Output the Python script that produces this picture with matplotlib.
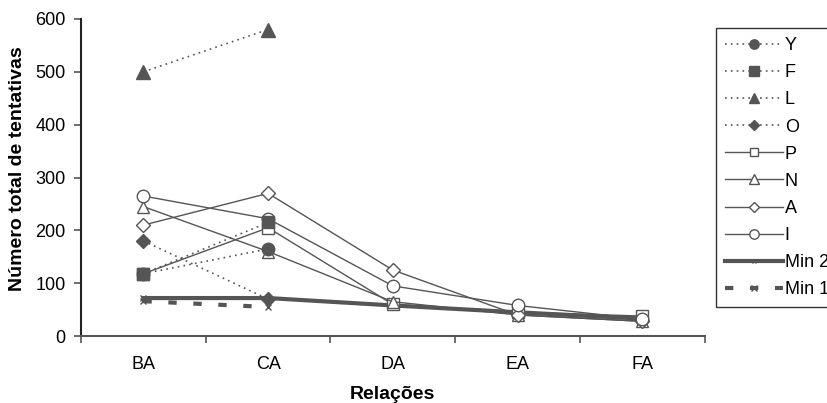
import matplotlib
matplotlib.use('Agg')
import matplotlib.pyplot as plt

plt.rcParams['font.family'] = ['Liberation Sans', 'DejaVu Sans']

categorias = ['BA', 'CA', 'DA', 'EA', 'FA']

# series pontilhadas (marcadores cheios)
Y = [118, 165]
F = [118, 215]
L = [500, 580]
O = [180, 70]
# series continuas (marcadores abertos)
P = [118, 205, 60, 45, 38]
N = [245, 160, 65, 40, 28]
A = [210, 270, 125, 40, 28]
I = [265, 222, 95, 58, 32]
# minimos
min2 = [72, 72, 58, 45, 33]
min1 = [66, 55]

cor = '#555555'

fig = plt.figure(figsize=(8.27, 4.03), dpi=100)
ax = fig.add_axes([0.098, 0.166, 0.754, 0.787])

x2 = [0, 1]
x5 = [0, 1, 2, 3, 4]
dot = (0, (1, 2.5))

ax.plot(x5, min2, color=cor, lw=3, marker='x', ms=4, mew=1, label='Min 2', zorder=2)
ax.plot(x2, min1, color=cor, lw=3, ls=(0, (2, 4)), marker='x', ms=5, mew=1, label='Min 1', zorder=2)

ax.plot(x5, P, color=cor, lw=1, marker='s', ms=8, mfc='white', mec=cor, label='P', zorder=3)
ax.plot(x5, N, color=cor, lw=1, marker='^', ms=9, mfc='white', mec=cor, label='N', zorder=3)
ax.plot(x5, A, color=cor, lw=1, marker='D', ms=7, mfc='white', mec=cor, label='A', zorder=3)
ax.plot(x5, I, color=cor, lw=1, marker='o', ms=9, mfc='white', mec=cor, label='I', zorder=3)

ax.plot(x2, Y, color=cor, lw=1.2, ls=dot, marker='o', ms=9, label='Y', zorder=4)
ax.plot(x2, F, color=cor, lw=1.2, ls=dot, marker='s', ms=9, label='F', zorder=4)
ax.plot(x2, L, color=cor, lw=1.2, ls=dot, marker='^', ms=10, label='L', zorder=4)
ax.plot(x2, O, color=cor, lw=1.2, ls=dot, marker='D', ms=7, label='O', zorder=4)

ax.set_xlim(-0.5, 4.5)
ax.set_ylim(0, 600)
ax.set_yticks(range(0, 601, 100))
ax.set_xticks(x5)
ax.set_xticklabels(categorias)
ax.set_xticks([-0.5, 0.5, 1.5, 2.5, 3.5, 4.5], minor=True)
ax.tick_params(axis='x', which='major', length=0, pad=14, labelsize=13)
ax.tick_params(axis='x', which='minor', length=5, width=1.2, color=cor, direction='out')
ax.tick_params(axis='y', length=5, width=1.2, color=cor, labelsize=13, pad=6)

for s in ['top', 'right']:
    ax.spines[s].set_visible(False)
for s in ['left', 'bottom']:
    ax.spines[s].set_color(cor)
    ax.spines[s].set_linewidth(1.5)
ax.spines['left'].set_color('#222222')

ax.set_xlabel('Relações', fontsize=14, fontweight='bold', labelpad=10)
ax.set_ylabel('Número total de tentativas', fontsize=14, fontweight='bold')
ax.yaxis.set_label_coords(-0.088, 0.527)

handles, labels = ax.get_legend_handles_labels()
ordem = ['Y', 'F', 'L', 'O', 'P', 'N', 'A', 'I', 'Min 2', 'Min 1']
hs = [handles[labels.index(n)] for n in ordem]
leg = fig.legend(hs, ordem, loc='upper left', bbox_to_anchor=(0.866, 0.93),
                 fontsize=13, frameon=True, fancybox=False, edgecolor='black',
                 handlelength=3.2, labelspacing=0.56, handletextpad=0.1,
                 borderpad=0.5, borderaxespad=0, markerscale=0.75)
leg.get_frame().set_linewidth(1)

fig.savefig('out.png', dpi=100)
